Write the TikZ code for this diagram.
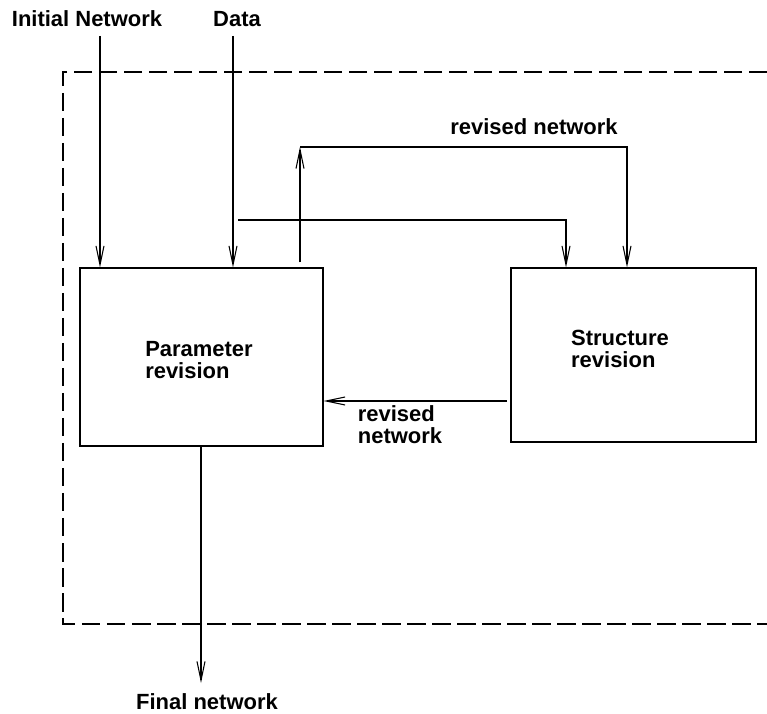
\documentclass[tikz,border=0pt]{standalone}
\usepackage{fontspec}
\setmainfont{Liberation Sans}
\usetikzlibrary{arrows.meta,positioning}

\begin{document}
\begin{tikzpicture}[
    box/.style={draw, line width=0.6pt, minimum width=4.86cm, minimum height=3.56cm},
    lbl/.style={font=\fontsize{12.5}{12.5}\selectfont\bfseries, align=left, inner sep=0pt},
    flow/.style={line width=0.6pt, -{Straight Barb[length=3.8mm,width=1.6mm]}},
    wire/.style={line width=0.6pt}]
    \useasboundingbox (0,0) rectangle (15.34,14.26);

    % Dashed boundary (open on the right)
    \draw[line width=0.75pt, dash pattern=on 0.37cm off 0.13cm]
        (15.34,12.82) -- (1.26,12.82) -- (1.26,1.78) -- (15.34,1.78);

    % Boxes
    \node[box] (param) at (4.03,7.12) {};
    \node[box, minimum width=4.9cm, minimum height=3.48cm] (struct) at (12.67,7.16) {};
    \node[lbl] (paramtxt) at (3.98,7.06) {Parameter\\revision};
    \node[lbl] (structtxt) at (12.40,7.28) {Structure\\revision};

    % Labels
    \node[lbl] (init) at (1.74,13.88) {Initial Network};
    \node[lbl] (data) at (4.74,13.88) {Data};
    \node[lbl] (final) at (4.14,0.23) {Final network};
    \node[lbl] (revtop) at (10.68,11.72) {revised network};
    \node[lbl] (revbot) at (8.0,5.76) {revised\\network};

    % Free ends of the connectors
    \coordinate (initin) at (2.00,13.54);
    \coordinate (datain) at (4.66,13.54);
    \coordinate (br) at (4.76,9.86);
    \coordinate (brend) at (11.32,9.86);
    \coordinate (up) at (6.00,11.32);
    \coordinate (ret) at (12.54,11.32);
    \coordinate (back) at (10.14,6.24);
    \coordinate (out) at (4.02,0.60);

    % Connectors
    \draw[flow] (initin) -- (initin |- param.north);
    \draw[flow] (datain) -- (datain |- param.north);
    \draw[flow] (br) -- (brend) -- (brend |- struct.north);
    \draw[flow] ([yshift=0.1cm]param.north -| up) -- (up);
    \draw[flow] (up) -- (ret) -- (ret |- struct.north);
    \draw[flow] (back) -- (back -| param.east);
    \draw[flow] (param.south -| out) -- (out);
\end{tikzpicture}
\end{document}
